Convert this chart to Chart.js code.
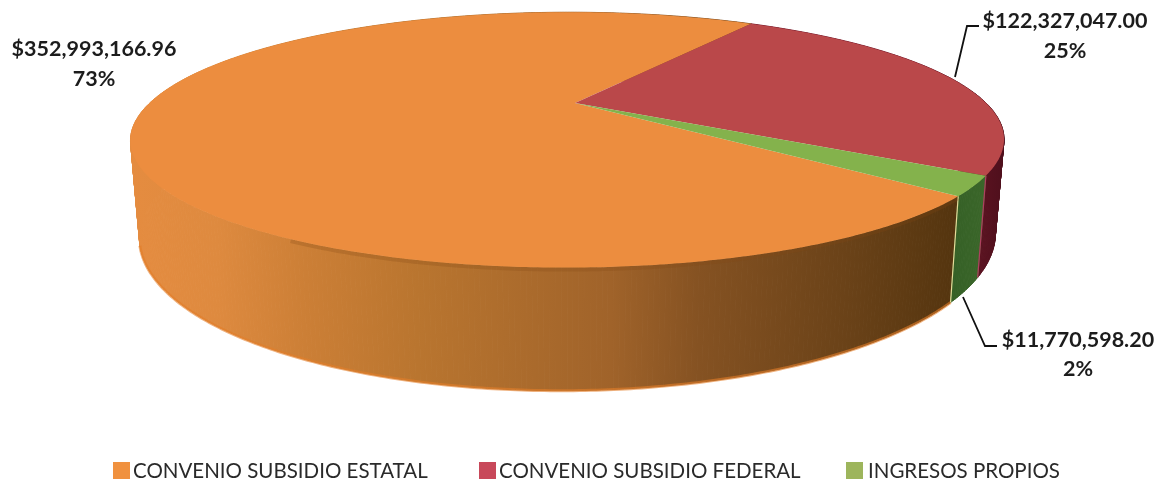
<!DOCTYPE html>
<html>
<head>
<meta charset="utf-8">
<style>
html, body { margin: 0; padding: 0; background: #fff; }
#wrap { width: 1166px; height: 486px; }
</style>
<script src="https://cdn.jsdelivr.net/npm/chart.js@4"></script>
</head>
<body>
<div id="wrap"><canvas id="pie3d" width="1166" height="486"></canvas></div>
<script>
const categories = ['CONVENIO SUBSIDIO ESTATAL', 'CONVENIO SUBSIDIO FEDERAL', 'INGRESOS PROPIOS'];
const amounts = [352993166.96, 122327047.00, 11770598.20];
const amountLabels = ['$352,993,166.96', '$122,327,047.00', '$11,770,598.20'];
const percentLabels = ['73%', '25%', '2%'];
const topColors = ['#EC8D3F', '#BA484A', '#84B24C'];
const legendColors = ['#F0913F', '#C8485A', '#9DB55C'];

// side wall colours, left to right across the pie
const sideStops = [
    [[0, '#E58C40'], [0.1, '#DE8A3F'], [0.2, '#CC7F36'], [0.33, '#B9752F'], [0.55, '#A0632A'], [0.65, '#855222'], [0.82, '#6A4218'], [0.94, '#55350F']],
    [[0.9, '#7A1C2C'], [1, '#4E0F1C']],
    [[0.9, '#2F5A22'], [1, '#3E6A2C']]
];

// perspective of the tilted disc
const view = { x: 575, y: 103, a: 418, b: 117, k: 0.289, m: -0.017, depth: 87.5, shrink: 0.98 };

function rimTop(t) {
    const u = Math.cos(t), v = Math.sin(t);
    const w = 1 - view.k * v - view.m * u;
    return { x: view.x + view.a * u / w, y: view.y + view.b * v / w };
}

function rimBottom(t) {
    const u = Math.cos(t), v = Math.sin(t);
    const w = 1 - view.k * v - view.m * u;
    return { x: view.x + view.shrink * view.a * u / w, y: view.y + (view.b * v + view.depth) / w };
}

function angleSteps(start, end) {
    const list = [];
    const n = Math.max(2, Math.ceil((end - start) / 0.01));
    for (let i = 0; i <= n; i++) list.push(start + (end - start) * i / n);
    return list;
}

const pie3dPlugin = {
    id: 'pie3d',
    beforeDatasetsDraw(chart) {
        const ctx = chart.ctx;
        const arcs = chart.getDatasetMeta(0).data;

        // side walls, one thin quad per step (stroked too, so no seams show)
        arcs.forEach((arc, i) => {
            const steps = angleSteps(arc.startAngle, arc.endAngle);
            const grad = ctx.createLinearGradient(130, 0, 1005, 0);
            sideStops[i].forEach(s => grad.addColorStop(s[0], s[1]));
            ctx.fillStyle = grad;
            ctx.strokeStyle = grad;
            ctx.lineWidth = 1;
            for (let j = 0; j < steps.length - 1; j++) {
                const a = rimTop(steps[j]), b = rimTop(steps[j + 1]);
                const c = rimBottom(steps[j + 1]), d = rimBottom(steps[j]);
                ctx.beginPath();
                ctx.moveTo(a.x, a.y);
                ctx.lineTo(b.x, b.y);
                ctx.lineTo(c.x, c.y);
                ctx.lineTo(d.x, d.y);
                ctx.closePath();
                ctx.fill();
                ctx.stroke();
            }
        });

        // light seams on the wall
        const seams = [[arcs[0].startAngle, '#E6DC9A'], [arcs[1].endAngle, '#B04060']];
        seams.forEach(s => {
            const a = rimTop(s[0]), b = rimBottom(s[0]);
            ctx.beginPath();
            ctx.moveTo(a.x, a.y);
            ctx.lineTo(b.x, b.y);
            ctx.strokeStyle = s[1];
            ctx.lineWidth = 1.2;
            ctx.stroke();
        });

        // lit lower edge of the orange wall
        ctx.beginPath();
        angleSteps(arcs[0].startAngle, 2.8).forEach((t, j) => {
            const p = rimBottom(t);
            if (j === 0) ctx.moveTo(p.x, p.y); else ctx.lineTo(p.x, p.y);
        });
        ctx.strokeStyle = 'rgba(226,125,40,0.6)';
        ctx.lineWidth = 3;
        ctx.stroke();

        // shadow under the top rim
        ctx.beginPath();
        angleSteps(arcs[0].startAngle, 2.1).forEach((t, j) => {
            const p = rimTop(t);
            if (j === 0) ctx.moveTo(p.x, p.y + 2); else ctx.lineTo(p.x, p.y + 2);
        });
        ctx.strokeStyle = 'rgba(130,70,20,0.25)';
        ctx.lineWidth = 4;
        ctx.stroke();

        // top faces
        arcs.forEach((arc, i) => {
            ctx.beginPath();
            ctx.moveTo(view.x, view.y);
            angleSteps(arc.startAngle, arc.endAngle).forEach(t => {
                const p = rimTop(t);
                ctx.lineTo(p.x, p.y);
            });
            ctx.closePath();
            ctx.fillStyle = topColors[i];
            ctx.fill();
        });
        return false;
    },
    afterDraw(chart) {
        const ctx = chart.ctx;
        ctx.save();

        // leader lines
        ctx.strokeStyle = '#111';
        ctx.lineWidth = 1.8;
        [[[955, 77], [967, 26], [979, 26]], [[963, 297], [985, 346], [997, 346]]].forEach(line => {
            ctx.beginPath();
            line.forEach((p, j) => j === 0 ? ctx.moveTo(p[0], p[1]) : ctx.lineTo(p[0], p[1]));
            ctx.stroke();
        });

        // data labels
        const spots = [[94, 49, 79], [1065, 21, 51], [1078, 340, 369]];
        ctx.fillStyle = '#1c1c1c';
        ctx.font = 'bold 21.5px Lato';
        ctx.textAlign = 'center';
        ctx.textBaseline = 'middle';
        amountLabels.forEach((txt, i) => {
            ctx.fillText(txt, spots[i][0], spots[i][1]);
            ctx.fillText(percentLabels[i], spots[i][0], spots[i][2]);
        });

        // legend
        const legendX = [113, 479, 846];
        const textGap = [20, 20, 22];
        ctx.font = '20.5px Lato';
        ctx.textAlign = 'left';
        categories.forEach((name, i) => {
            ctx.fillStyle = legendColors[i];
            ctx.fillRect(legendX[i], 462, 17, 17);
            ctx.fillStyle = '#2a2a2a';
            ctx.fillText(name, legendX[i] + textGap[i], 471);
        });
        ctx.restore();
    }
};

new Chart(document.getElementById('pie3d').getContext('2d'), {
    type: 'pie',
    data: {
        labels: categories,
        datasets: [{ data: amounts, backgroundColor: topColors, borderWidth: 0 }]
    },
    options: {
        responsive: false,
        animation: false,
        rotation: 131,
        plugins: {
            legend: { display: false },
            tooltip: { enabled: false }
        }
    },
    plugins: [pie3dPlugin]
});
</script>
</body>
</html>
